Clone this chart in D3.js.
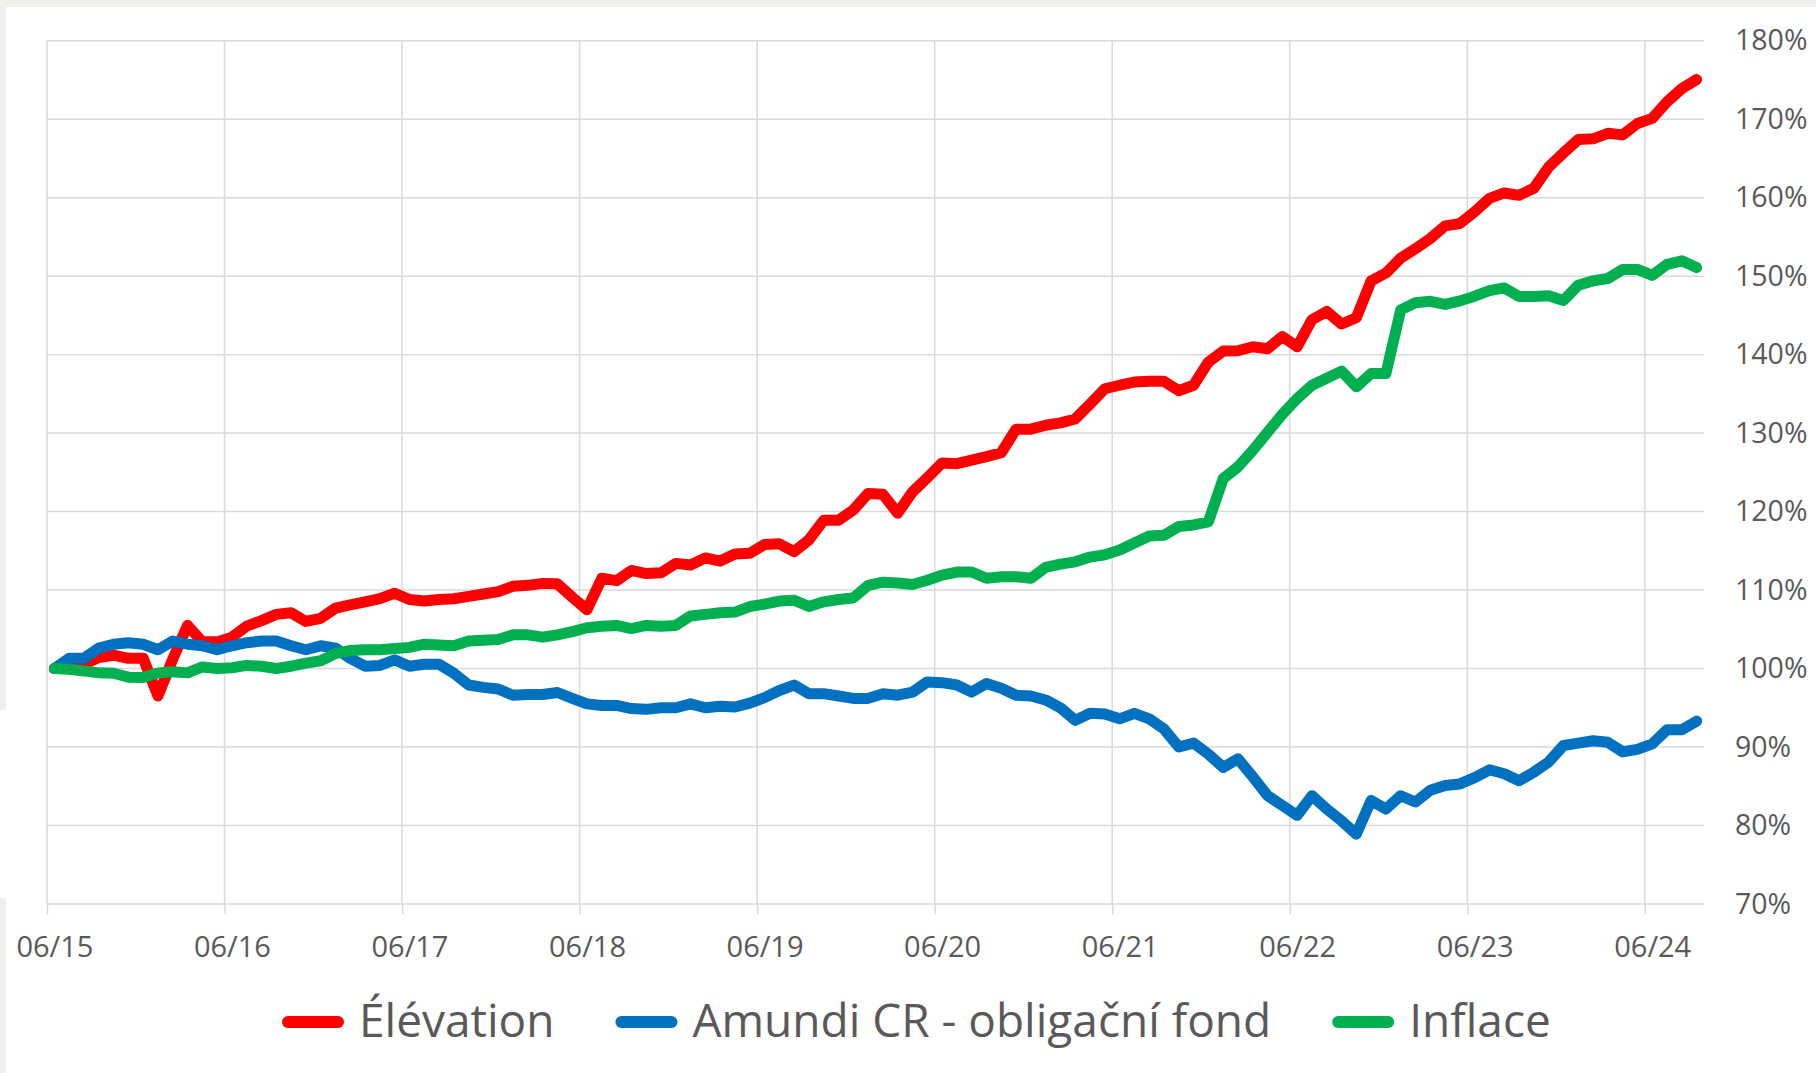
<!DOCTYPE html>
<html>
<head>
<meta charset="utf-8">
<script src="https://cdn.jsdelivr.net/npm/d3@7"></script>
<style>
  html, body { margin: 0; padding: 0; background: #efefed; }
  svg { display: block; font-family: "Open Sans", sans-serif; }
</style>
</head>
<body>
<svg id="chart" width="1816" height="1073"></svg>
<script>
// monthly values, 06/2015 .. 09/2024 (index 100 = start)
const elevation = [
  100, 100.3, 100.55, 101.4, 101.7, 101.3, 101.3, 96.5, 101.2, 105.5,
  103.4, 103.4, 104.0, 105.4, 106.1, 106.9, 107.1, 106.0, 106.4, 107.7,
  108.1, 108.5, 108.9, 109.6, 108.8, 108.6, 108.8, 108.9, 109.2, 109.5,
  109.8, 110.5, 110.6, 110.85, 110.8, 109.1, 107.5, 111.5, 111.2, 112.5,
  112.1, 112.2, 113.4, 113.2, 114.1, 113.7, 114.6, 114.7, 115.8, 115.9,
  114.9, 116.4, 118.9, 118.9, 120.2, 122.3, 122.2, 119.8, 122.5, 124.3,
  126.2, 126.1, 126.55, 127.0, 127.5, 130.5, 130.5, 131.0, 131.3, 131.8,
  133.7, 135.65, 136.1, 136.5, 136.6, 136.6, 135.4, 136.1, 139.05, 140.45,
  140.5, 141.0, 140.75, 142.3, 141.0, 144.45, 145.5, 143.9, 144.7, 149.4,
  150.4, 152.3, 153.5, 154.8, 156.4, 156.7, 158.2, 159.9, 160.6, 160.3,
  161.2, 163.9, 165.7, 167.4, 167.5, 168.2, 168.0, 169.45, 170.1, 172.2,
  173.9, 175.05
]

const amundi = [
  100, 101.3, 101.3, 102.6, 103.1, 103.3, 103.1, 102.4, 103.5, 103.1,
  102.9, 102.4, 102.9, 103.3, 103.5, 103.5, 102.9, 102.4, 102.9, 102.6,
  101.3, 100.3, 100.4, 101.1, 100.3, 100.55, 100.55, 99.4, 97.9, 97.6,
  97.4, 96.6, 96.7, 96.7, 96.95, 96.2, 95.5, 95.3, 95.3, 94.9,
  94.8, 95.0, 95.0, 95.5, 95.0, 95.2, 95.1, 95.6, 96.3, 97.2,
  97.9, 96.8, 96.8, 96.5, 96.2, 96.2, 96.8, 96.6, 97.0, 98.3,
  98.2, 97.9, 97.0, 98.1, 97.5, 96.6, 96.5, 96.0, 95.0, 93.4,
  94.3, 94.2, 93.6, 94.3, 93.6, 92.3, 90.0, 90.5, 89.1, 87.4,
  88.5, 86.2, 83.8, 82.55, 81.3, 83.8, 82.1, 80.6, 78.9, 83.2,
  82.1, 83.8, 83.0, 84.5, 85.1, 85.3, 86.1, 87.1, 86.6, 85.7,
  86.8, 88.1, 90.2, 90.5, 90.8, 90.6, 89.4, 89.7, 90.4, 92.2,
  92.2, 93.3
]

const inflace = [
  100, 99.9, 99.7, 99.45, 99.4, 98.9, 98.85, 99.45, 99.6, 99.45,
  100.2, 100.0, 100.1, 100.4, 100.3, 100.0, 100.3, 100.7, 101.0, 101.9,
  102.3, 102.4, 102.4, 102.55, 102.7, 103.1, 103.0, 102.9, 103.5, 103.6,
  103.7, 104.3, 104.3, 104.0, 104.3, 104.7, 105.2, 105.4, 105.5, 105.1,
  105.5, 105.4, 105.5, 106.7, 106.9, 107.1, 107.2, 107.9, 108.2, 108.6,
  108.7, 107.9, 108.5, 108.8, 109.0, 110.6, 111.0, 110.9, 110.7, 111.25,
  111.9, 112.3, 112.3, 111.5, 111.7, 111.7, 111.5, 112.9, 113.3, 113.6,
  114.2, 114.5, 115.1, 116.0, 116.9, 117.0, 118.1, 118.3, 118.7, 124.2,
  125.7, 127.8, 130.1, 132.4, 134.4, 136.1, 137.0, 137.9, 135.9, 137.6,
  137.6, 145.7, 146.6, 146.8, 146.4, 146.85, 147.45, 148.15, 148.5, 147.4,
  147.4, 147.5, 146.9, 148.85, 149.4, 149.7, 150.85, 150.85, 150.1, 151.5,
  151.95, 151.1
]

const x_labels = ["06/15", "06/16", "06/17", "06/18", "06/19", "06/20", "06/21", "06/22", "06/23", "06/24"]
const y_ticks = [70, 80, 90, 100, 110, 120, 130, 140, 150, 160, 170, 180]

const series = [
  {name: "Élévation", color: "#ff0000", values: elevation},
  {name: "Amundi CR - obligační fond", color: "#0070c0", values: amundi},
  {name: "Inflace", color: "#00b050", values: inflace},
]

const marginLeft = 47
const plotRight = 1704
const marginTop = 40.7
const plotBottom = 904
const months = elevation.length  // 112 months, Jun 2015 .. Sep 2024
const text_color = "#595959"
const grid_color = "#d9d9d9"

const svg = d3.select("#chart")

// white card with the grey frame around it
svg.append("rect").attr("x", 0).attr("y", 0).attr("width", 1816).attr("height", 1073).attr("fill", "#efefed")
svg.append("rect").attr("x", 6).attr("y", 7).attr("width", 1810).attr("height", 1066).attr("fill", "#ffffff")
svg.append("rect").attr("x", 0).attr("y", 898).attr("width", 4).attr("height", 175).attr("fill", "#efefed")
svg.append("rect").attr("x", 0).attr("y", 710).attr("width", 6).attr("height", 188).attr("fill", "#ffffff")

const x = d3.scaleLinear().domain([0, months]).range([marginLeft, plotRight])
const y = d3.scaleLinear().domain([70, 180]).range([plotBottom, marginTop])

const year_ticks = x_labels.map((d, i) => i * 12)

// horizontal gridlines
svg.append("g")
  .selectAll("line")
  .data(y_ticks)
  .join("line")
  .attr("x1", marginLeft)
  .attr("x2", plotRight)
  .attr("y1", d => y(d))
  .attr("y2", d => y(d))
  .attr("stroke", grid_color)
  .attr("stroke-width", 1.5)

// vertical gridlines at each June
svg.append("g")
  .selectAll("line")
  .data(year_ticks)
  .join("line")
  .attr("x1", d => x(d))
  .attr("x2", d => x(d))
  .attr("y1", marginTop)
  .attr("y2", plotBottom)
  .attr("stroke", grid_color)
  .attr("stroke-width", 1.5)

// x axis: ticks on the June boundaries, labels centred in the June bin
const half_month = (x(1) - x(0)) / 2
const x_axis = svg.append("g")
  .attr("transform", `translate(0,${plotBottom})`)
  .call(d3.axisBottom(x)
    .tickValues(year_ticks)
    .tickSize(10)
    .tickPadding(0)
    .tickFormat((d, i) => x_labels[i]))
x_axis.select(".domain").remove()
x_axis.selectAll(".tick line").attr("stroke", grid_color).attr("stroke-width", 1.5)
x_axis.selectAll(".tick text")
  .attr("x", half_month)
  .attr("y", 52.7)
  .attr("dy", null)
  .attr("fill", text_color)
  .attr("font-size", 29)
  .attr("font-family", "'Open Sans', sans-serif")

// y axis on the right
const y_axis = svg.append("g")
  .attr("transform", `translate(${plotRight},0)`)
  .call(d3.axisRight(y)
    .tickValues(y_ticks)
    .tickSize(0)
    .tickPadding(31)
    .tickFormat(d => d + "%"))
y_axis.select(".domain").remove()
y_axis.selectAll(".tick text")
  .attr("fill", text_color)
  .attr("font-size", 28.5)
  .attr("font-family", "'Open Sans', sans-serif")

// the lines
const line = d3.line()
  .x((d, i) => x(i + 0.5))
  .y(d => y(d))

svg.append("g")
  .selectAll("path")
  .data(series)
  .join("path")
  .attr("d", d => line(d.values))
  .attr("fill", "none")
  .attr("stroke", d => d.color)
  .attr("stroke-width", 11)
  .attr("stroke-linejoin", "round")
  .attr("stroke-linecap", "round")

// legend
const legend = svg.append("g").attr("class", "legend")
let cursor = 282
const legend_y = 1022
series.forEach(s => {
  legend.append("line")
    .attr("x1", cursor + 6)
    .attr("x2", cursor + 56)
    .attr("y1", legend_y)
    .attr("y2", legend_y)
    .attr("stroke", s.color)
    .attr("stroke-width", 12)
    .attr("stroke-linecap", "round")
  const label = legend.append("text")
    .attr("x", cursor + 77)
    .attr("y", legend_y + 15)
    .attr("fill", text_color)
    .attr("font-size", 46)
    .text(s.name)
  cursor = cursor + 77 + label.node().getComputedTextLength() + 61
})
</script>
</body>
</html>
